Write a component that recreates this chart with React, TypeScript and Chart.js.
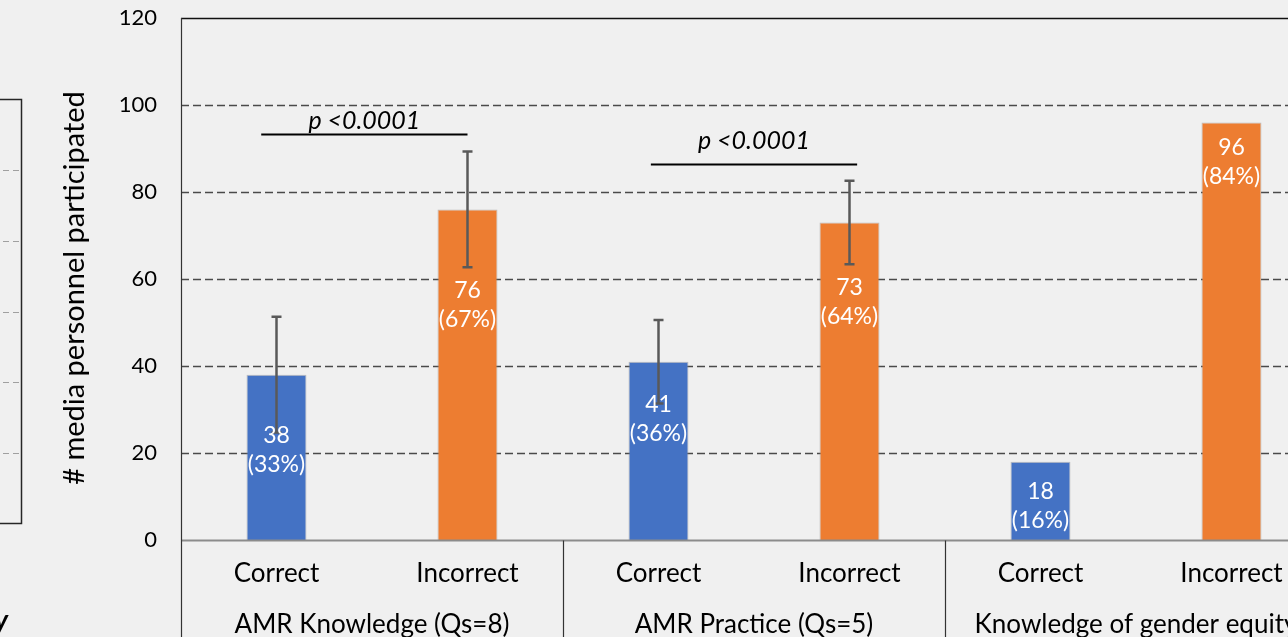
import React, { useEffect, useRef } from 'react';
import { Chart, registerables } from 'chart.js';

Chart.register(...registerables);

// ---- data ----
const categories = ['Correct', 'Incorrect', 'Correct', 'Incorrect', 'Correct', 'Incorrect'];
const groups = ['AMR Knowledge (Qs=8)', 'AMR Practice (Qs=5)', 'Knowledge of gender equity'];
const counts = [38, 76, 41, 73, 18, 96];
const percents = ['33%', '67%', '36%', '64%', '16%', '84%'];
const errorMargins: (number | null)[] = [13.3, 13.3, 9.6, 9.6, null, null];
const labelCentres = [20.7, 53.9, 27.7, 54.8, 7.9, 86.8];
const yTicks = [0, 20, 40, 60, 80, 100, 120];
const yTitle = '# media personnel participated';
const pTexts = ['p <0.0001', 'p <0.0001'];
const pFrom = [-0.08, 1.96];
const pTo = [1.0, 3.04];
const pLineValues = [93.3, 86.4];
const pTextValues = [96.3, 91.7];

const BLUE = '#4472C4';
const ORANGE = '#ED7D31';
const barColors = counts.map((_, i) => (i % 2 === 0 ? BLUE : ORANGE));
const FONT = 'Lato, "Open Sans", sans-serif';

export default function App() {
  const ref = useRef<HTMLCanvasElement>(null);

  useEffect(() => {
    const canvas = ref.current;
    if (!canvas) return;

    const decor = {
      id: 'decor',
      beforeDatasetsDraw(chart: any) {
        const { ctx, chartArea: a, scales } = chart;
        const y = scales.y;
        ctx.save();
        yTicks.forEach((v) => {
          if (v === 0) return;
          const py = Math.round(y.getPixelForValue(v)) + 0.5;
          ctx.beginPath();
          if (v === 120) {
            ctx.setLineDash([]);
            ctx.strokeStyle = '#111';
            ctx.lineWidth = 1.5;
          } else {
            ctx.setLineDash([8, 4]);
            ctx.strokeStyle = '#4a4a4a';
            ctx.lineWidth = 1.3;
          }
          ctx.moveTo(a.left, py);
          ctx.lineTo(a.right, py);
          ctx.stroke();
        });
        ctx.restore();
      },
      afterDatasetsDraw(chart: any) {
        const { ctx, chartArea: a, scales, height } = chart;
        const x = scales.x;
        const y = scales.y;
        ctx.save();

        // zero axis line
        const p0 = Math.round(y.getPixelForValue(0)) + 0.5;
        ctx.setLineDash([]);
        ctx.strokeStyle = '#8c8c8c';
        ctx.lineWidth = 2;
        ctx.beginPath();
        ctx.moveTo(a.left, p0);
        ctx.lineTo(a.right, p0);
        ctx.stroke();

        // left border + group separators
        ctx.strokeStyle = '#333';
        ctx.lineWidth = 1.2;
        ctx.beginPath();
        ctx.moveTo(a.left + 0.5, a.top);
        ctx.lineTo(a.left + 0.5, height);
        for (let g = 1; g < groups.length; g++) {
          const sx = Math.round((x.getPixelForValue(2 * g - 1) + x.getPixelForValue(2 * g)) / 2) + 0.5;
          ctx.moveTo(sx, p0);
          ctx.lineTo(sx, height);
        }
        ctx.stroke();

        // error bars
        ctx.strokeStyle = '#595959';
        ctx.lineWidth = 2.5;
        counts.forEach((v, i) => {
          const e = errorMargins[i];
          if (e == null) return;
          const cx = x.getPixelForValue(i);
          const hi = y.getPixelForValue(v + e);
          const lo = y.getPixelForValue(v - e);
          ctx.beginPath();
          ctx.moveTo(cx, hi);
          ctx.lineTo(cx, lo);
          ctx.moveTo(cx - 5, hi);
          ctx.lineTo(cx + 5, hi);
          ctx.moveTo(cx - 5, lo);
          ctx.lineTo(cx + 5, lo);
          ctx.stroke();
        });

        // bar labels
        ctx.fillStyle = '#fff';
        ctx.font = `23px ${FONT}`;
        ctx.textAlign = 'center';
        ctx.textBaseline = 'middle';
        counts.forEach((v, i) => {
          const cx = x.getPixelForValue(i);
          const cy = y.getPixelForValue(labelCentres[i]);
          ctx.fillText(String(v), cx, cy - 14.5);
          ctx.fillText(`(${percents[i]})`, cx, cy + 14.5);
        });

        // p-value annotations
        ctx.fillStyle = '#000';
        ctx.strokeStyle = '#000';
        ctx.lineWidth = 2;
        pTexts.forEach((t, k) => {
          const x1 = x.getPixelForValue(pFrom[k]);
          const x2 = x.getPixelForValue(pTo[k]);
          const ly = Math.round(y.getPixelForValue(pLineValues[k])) + 0.5;
          ctx.beginPath();
          ctx.moveTo(x1, ly);
          ctx.lineTo(x2, ly);
          ctx.stroke();
          ctx.font = `italic 25px ${FONT}`;
          ctx.fillText(t, (x1 + x2) / 2, y.getPixelForValue(pTextValues[k]));
        });

        // category labels
        ctx.fillStyle = '#000';
        ctx.font = `26px ${FONT}`;
        categories.forEach((c, i) => {
          ctx.fillText(c, x.getPixelForValue(i), a.bottom + 34);
        });
        // group labels
        groups.forEach((gname, g) => {
          const gx = (x.getPixelForValue(2 * g) + x.getPixelForValue(2 * g + 1)) / 2;
          ctx.fillText(gname, gx, a.bottom + 85);
        });

        // y-axis title
        ctx.save();
        ctx.translate(75, (a.top + a.bottom) / 2 + 9);
        ctx.rotate(-Math.PI / 2);
        ctx.font = `29px ${FONT}`;
        ctx.fillText(yTitle, 0, 0);
        ctx.restore();

        // fragment of the neighbouring panel on the left
        const bTop = 99.5;
        const bBot = 523.5;
        ctx.strokeStyle = '#262626';
        ctx.lineWidth = 1.5;
        ctx.strokeRect(-10, bTop, 31.5, bBot - bTop);
        ctx.setLineDash([6, 4]);
        ctx.strokeStyle = '#a0a0a0';
        ctx.lineWidth = 1.2;
        for (let k = 1; k < 6; k++) {
          const gy = Math.round(bBot - (k * (bBot - bTop)) / 6) + 0.5;
          ctx.beginPath();
          ctx.moveTo(3, gy);
          ctx.lineTo(20, gy);
          ctx.stroke();
        }
        ctx.setLineDash([]);
        ctx.fillStyle = '#000';
        ctx.font = `italic bold 28px ${FONT}`;
        ctx.textAlign = 'right';
        ctx.textBaseline = 'alphabetic';
        ctx.fillText('y', 8, 630);

        ctx.restore();
      },
    };

    const chart = new Chart(canvas, {
      type: 'bar',
      data: {
        labels: categories,
        datasets: [
          {
            data: counts,
            backgroundColor: barColors,
            borderColor: 'rgba(150,150,150,0.6)',
            borderWidth: 1,
            categoryPercentage: 1,
            barPercentage: 0.314,
          },
        ],
      },
      options: {
        animation: false,
        responsive: true,
        maintainAspectRatio: false,
        layout: { padding: { top: 18, left: 0, right: 0, bottom: 0 } },
        plugins: {
          legend: { display: false },
          tooltip: { enabled: false },
          title: { display: false },
        },
        scales: {
          x: {
            ticks: { display: false },
            grid: { display: false, drawTicks: false },
            border: { display: false },
            afterFit: (s: any) => {
              s.height = 97;
              s.paddingLeft = 0;
              s.paddingRight = 0;
            },
          },
          y: {
            min: 0,
            max: 120,
            afterBuildTicks: (s: any) => {
              s.ticks = yTicks.map((v) => ({ value: v }));
            },
            ticks: { font: { family: FONT, size: 22 }, color: '#000', padding: 24 },
            grid: { display: false, drawTicks: false },
            border: { display: false },
            afterFit: (s: any) => {
              s.width = 181;
              s.paddingTop = 0;
              s.paddingBottom = 0;
            },
          },
        },
      },
      plugins: [decor],
    });
    return () => chart.destroy();
  }, []);

  return (
    <div
      style={{
        position: 'fixed',
        left: 0,
        top: 0,
        width: 1288,
        height: 637,
        overflow: 'hidden',
        background: '#f0f0f0',
      }}
    >
      <div style={{ position: 'relative', width: 1327, height: 637 }}>
        <canvas ref={ref} />
      </div>
    </div>
  );
}
